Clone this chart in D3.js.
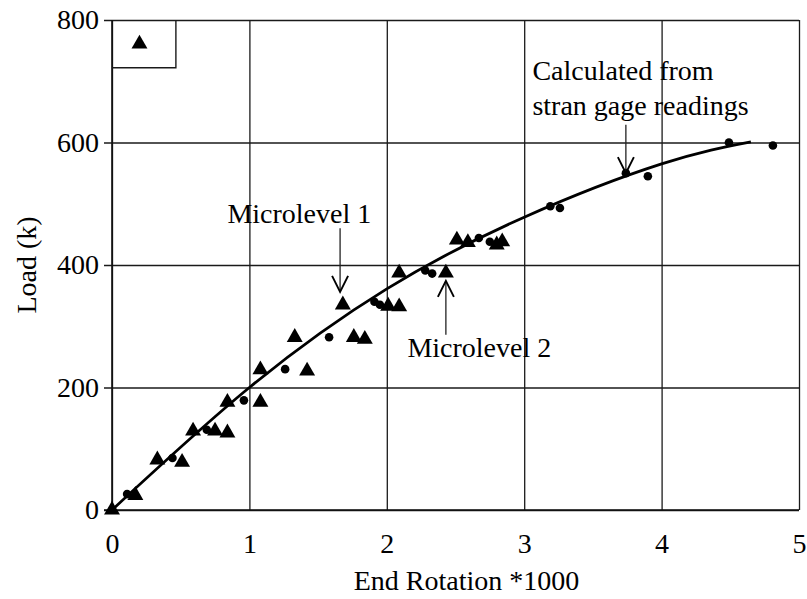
<!DOCTYPE html>
<html>
<head>
<meta charset="utf-8">
<script src="https://cdn.jsdelivr.net/npm/d3@7"></script>
<style>
  html, body { margin: 0; padding: 0; background: #fff; }
  svg { display: block; }
  text { font-family: "Liberation Serif", "Times New Roman", serif; fill: #000; }
</style>
</head>
<body>
<svg id="chart" width="807" height="599"></svg>
<script>
// ---- data ----
const xTicks = [0, 1, 2, 3, 4, 5];
const yTicks = [0, 200, 400, 600, 800];

// Microlevel measurements (triangles)
const triX = [0, 0.17, 0.33, 0.51, 0.59, 0.75, 0.84, 0.84, 1.08, 1.08, 1.33, 1.42, 1.68, 1.76, 1.84, 2.01, 2.09, 2.09, 2.43, 2.51, 2.59, 2.80, 2.84];
const triY = [0, 24, 82, 78, 129, 129, 126, 176, 176, 229, 282, 227, 335, 282, 279, 333, 332, 387, 387, 441, 437, 433, 438];

// strain gage derived (dots)
const dotX = [0.11, 0.44, 0.69, 0.96, 1.26, 1.58, 1.91, 1.95, 2.28, 2.33, 2.67, 2.75, 3.19, 3.26, 3.74, 3.90, 4.49, 4.81];
const dotY = [26, 85, 131, 179, 230, 282, 340, 335, 391, 386, 444, 438, 496, 493, 550, 545, 600, 595];

// fitted curve
const curveX = [0, 1, 2, 3, 4, 4.65];
const curveY = [0, 200, 361, 478, 565, 601];

// annotations (data units): text anchor, arrow tail/tip
const annoText = [["Microlevel 1"], ["Microlevel 2"], ["Calculated from", "stran gage readings"]];
const annoTextX = [0.84, 2.15, 3.06];
const annoTextY = [469, 250, 702];
const arrowX = [1.66, 2.43, 3.74];
const arrowTail = [460, 286, 629];
const arrowTip = [356, 374, 550];

// ---- layout ----
const svg = d3.select("#chart");
const x = d3.scaleLinear().domain([0, 5]).range([112, 799]);
const y = d3.scaleLinear().domain([0, 800]).range([510, 20]);
const plotW = x(5) - x(0), plotH = y(0) - y(800);
const FS = 28;

// y axis with grid
const gy = svg.append("g").attr("transform", `translate(${x(0)},0)`)
  .call(d3.axisLeft(y).tickValues(yTicks).tickSize(-plotW).tickPadding(13).tickSizeOuter(0).tickFormat(d3.format("d")));
gy.select(".domain").remove();
gy.selectAll(".tick line").attr("x1", -8).attr("x2", plotW).attr("stroke", "#1a1a1a").attr("stroke-width", 1.3);
gy.selectAll(".tick text").attr("font-size", FS).attr("font-family", "Liberation Serif").attr("fill", "#000");

// x axis with grid
const gx = svg.append("g").attr("transform", `translate(0,${y(0)})`)
  .call(d3.axisBottom(x).tickValues(xTicks).tickSize(-plotH).tickPadding(23).tickSizeOuter(0).tickFormat(d3.format("d")));
gx.select(".domain").remove();
gx.selectAll(".tick line").attr("stroke", "#1a1a1a").attr("stroke-width", 1.3);
gx.selectAll(".tick text").attr("font-size", FS).attr("font-family", "Liberation Serif").attr("fill", "#000");

// axis lines
svg.append("line").attr("x1", x(0) - 8).attr("x2", x(5)).attr("y1", y(0)).attr("y2", y(0))
  .attr("stroke", "#111").attr("stroke-width", 1.6);
svg.append("line").attr("x1", x(0)).attr("x2", x(0)).attr("y1", y(800)).attr("y2", y(0))
  .attr("stroke", "#111").attr("stroke-width", 1.6);

// axis titles
svg.append("text").attr("x", (x(0) + x(5)) / 2 + 11).attr("y", 590)
  .attr("text-anchor", "middle").attr("font-size", FS).text("End Rotation *1000");
svg.append("text").attr("transform", `translate(36,${(y(0) + y(800)) / 2}) rotate(-90)`)
  .attr("text-anchor", "middle").attr("font-size", FS).text("Load (k)");

// legend box
const legX = 0.465, legY = 722;
svg.append("path")
  .attr("d", `M${x(legX)},${y(800)}V${y(legY)}H${x(0)}`)
  .attr("fill", "none").attr("stroke", "#1a1a1a").attr("stroke-width", 1.4);
svg.append("path").attr("d", d3.symbol(d3.symbolTriangle, 110)())
  .attr("transform", `translate(${x(0.20)},${y(761)})`).attr("fill", "#000");

// curve
const line = d3.line().x(d => x(d[0])).y(d => y(d[1])).curve(d3.curveNatural);
svg.append("path").datum(curveX.map((v, i) => [v, curveY[i]]))
  .attr("d", line).attr("fill", "none").attr("stroke", "#000").attr("stroke-width", 2.8);

// triangles
svg.append("g").selectAll("path").data(triX.map((v, i) => [v, triY[i]])).join("path")
  .attr("d", d3.symbol(d3.symbolTriangle, 110)())
  .attr("transform", d => `translate(${x(d[0])},${y(d[1])})`).attr("fill", "#000");

// dots
svg.append("g").selectAll("circle").data(dotX.map((v, i) => [v, dotY[i]])).join("circle")
  .attr("cx", d => x(d[0])).attr("cy", d => y(d[1])).attr("r", 4.3).attr("fill", "#000");

// annotations
annoText.forEach((lines, i) => {
  const t = svg.append("text").attr("x", x(annoTextX[i])).attr("y", y(annoTextY[i])).attr("font-size", FS);
  lines.forEach((s, j) => t.append("tspan").attr("x", x(annoTextX[i])).attr("dy", j === 0 ? 0 : 35).text(s));
  const ax = x(arrowX[i]), y0 = y(arrowTail[i]), y1 = y(arrowTip[i]);
  const dir = y1 > y0 ? -1 : 1;
  svg.append("line").attr("x1", ax).attr("x2", ax).attr("y1", y0).attr("y2", y1)
    .attr("stroke", "#222").attr("stroke-width", 1.3);
  svg.append("path")
    .attr("d", `M${ax - 8},${y1 + dir * 16}L${ax},${y1}L${ax + 8},${y1 + dir * 16}`)
    .attr("fill", "none").attr("stroke", "#000").attr("stroke-width", 1.9);
});
</script>
</body>
</html>
